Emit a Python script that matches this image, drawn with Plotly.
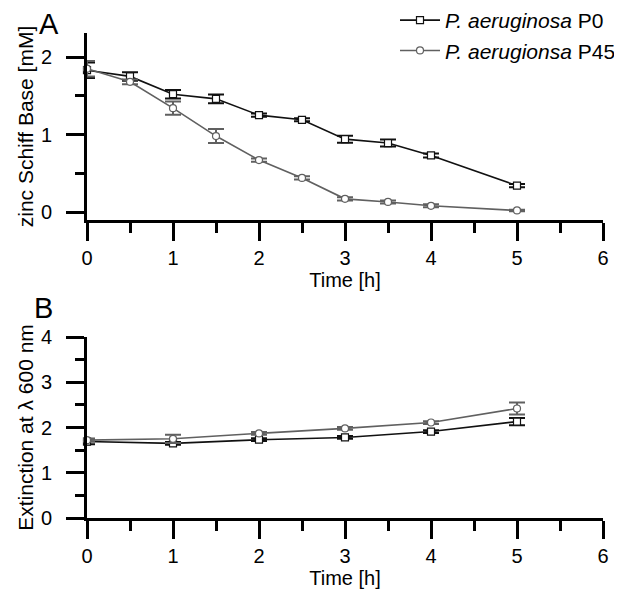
import plotly.graph_objects as go

# Panel A: zinc Schiff base [mM]
time_a = [0, 0.5, 1, 1.5, 2, 2.5, 3, 3.5, 4, 5]
zsb_p0 = [1.83, 1.75, 1.52, 1.46, 1.25, 1.19, 0.94, 0.89, 0.73, 0.34]
zsb_p0_err = [0.10, 0.055, 0.055, 0.055, 0.02, 0.02, 0.045, 0.045, 0.025, 0.02]
zsb_p45 = [1.85, 1.68, 1.34, 0.98, 0.67, 0.44, 0.17, 0.13, 0.08, 0.02]
zsb_p45_err = [0.10, 0.03, 0.085, 0.09, 0.02, 0.02, 0.02, 0.02, 0.02, 0.01]

# Panel B: extinction at 600 nm
time_b = [0, 1, 2, 3, 4, 5]
ext_p0 = [1.69, 1.65, 1.73, 1.78, 1.91, 2.13]
ext_p0_err = [0.06, 0.03, 0.03, 0.03, 0.03, 0.08]
ext_p45 = [1.72, 1.75, 1.87, 1.98, 2.11, 2.42]
ext_p45_err = [0.03, 0.09, 0.03, 0.03, 0.03, 0.13]

names = ["<i>P. aeruginosa</i> P0", "<i>P. aerugionsa</i> P45"]
C0 = "#111111"
C45 = "#606060"

# page body has an 8px margin, so the figure is drawn 8px in from the window corner
OFF = 8
W, H = 622 - OFF, 589 - OFF
FONT = "Liberation Sans, Arial, sans-serif"

def px(x):
    return (x - OFF) / W

def py(y):
    return 1 - (y - OFF) / H

fig = go.Figure()

def add(x, y, err, color, symbol, name, xa, ya, show):
    fig.add_trace(go.Scatter(
        x=x, y=y, name=name, mode="lines+markers", xaxis=xa, yaxis=ya,
        showlegend=show, cliponaxis=False,
        line=dict(color=color, width=1.6),
        marker=dict(symbol=symbol, size=7, color="white",
                    line=dict(color=color, width=1.2)),
        error_y=dict(type="data", array=err, color=color, thickness=2, width=8),
    ))

add(time_a, zsb_p0, zsb_p0_err, C0, "square", names[0], "x", "y", True)
add(time_a, zsb_p45, zsb_p45_err, C45, "circle", names[1], "x", "y", True)
add(time_b, ext_p0, ext_p0_err, C0, "square", names[0], "x2", "y2", False)
add(time_b, ext_p45, ext_p45_err, C45, "circle", names[1], "x2", "y2", False)

axis_common = dict(showline=True, linewidth=3, linecolor="black", ticks="outside",
                   ticklen=18, tickwidth=3, tickcolor="black", showgrid=False,
                   zeroline=False, automargin=False,
                   tickfont=dict(size=20, color="black", family=FONT))

def minor(n):
    return dict(dtick=0.5, ticklen=n, tickwidth=3, ticks="outside", tickcolor="black")

fig.update_layout(
    width=W, height=H, margin=dict(l=0, r=0, t=0, b=0, autoexpand=False),
    plot_bgcolor="white", paper_bgcolor="white",
    font=dict(family=FONT, color="black"),
    xaxis=dict(domain=[px(87), px(603)], range=[0, 6], dtick=1, anchor="y",
               minor=minor(10), ticklabelstandoff=0,
               title=dict(text="Time [h]", font=dict(size=20), standoff=4),
               **axis_common),
    yaxis=dict(domain=[py(220), py(33)], range=[-0.103, 2.31], dtick=1,
               anchor="x", minor=minor(9), ticklabelstandoff=10,
               title=dict(text="zinc Schiff Base [mM]", font=dict(size=21), standoff=2),
               **axis_common),
    xaxis2=dict(domain=[px(87), px(603)], range=[0, 6], dtick=1, anchor="y2",
                minor=minor(10), ticklabelstandoff=0,
                title=dict(text="Time [h]", font=dict(size=20), standoff=0),
                **axis_common),
    yaxis2=dict(domain=[py(518), py(337)], range=[0, 4], dtick=1,
                anchor="x2", minor=minor(9), ticklabelstandoff=10,
                title=dict(text="Extinction at λ 600 nm", font=dict(size=21), standoff=2),
                **axis_common),
    legend=dict(x=px(395), y=1 + 8 / H, xanchor="left", yanchor="top",
                font=dict(size=21, color="black", family=FONT),
                bgcolor="rgba(0,0,0,0)", tracegroupgap=0, itemwidth=40),
    annotations=[
        dict(text="A", x=px(49), y=py(24), xref="paper", yref="paper",
             xanchor="center", yanchor="middle",
             showarrow=False, font=dict(size=29, color="black")),
        dict(text="B", x=px(43), y=py(308), xref="paper", yref="paper",
             xanchor="center", yanchor="middle",
             showarrow=False, font=dict(size=29, color="black")),
    ],
)

fig.write_html("out.html")
